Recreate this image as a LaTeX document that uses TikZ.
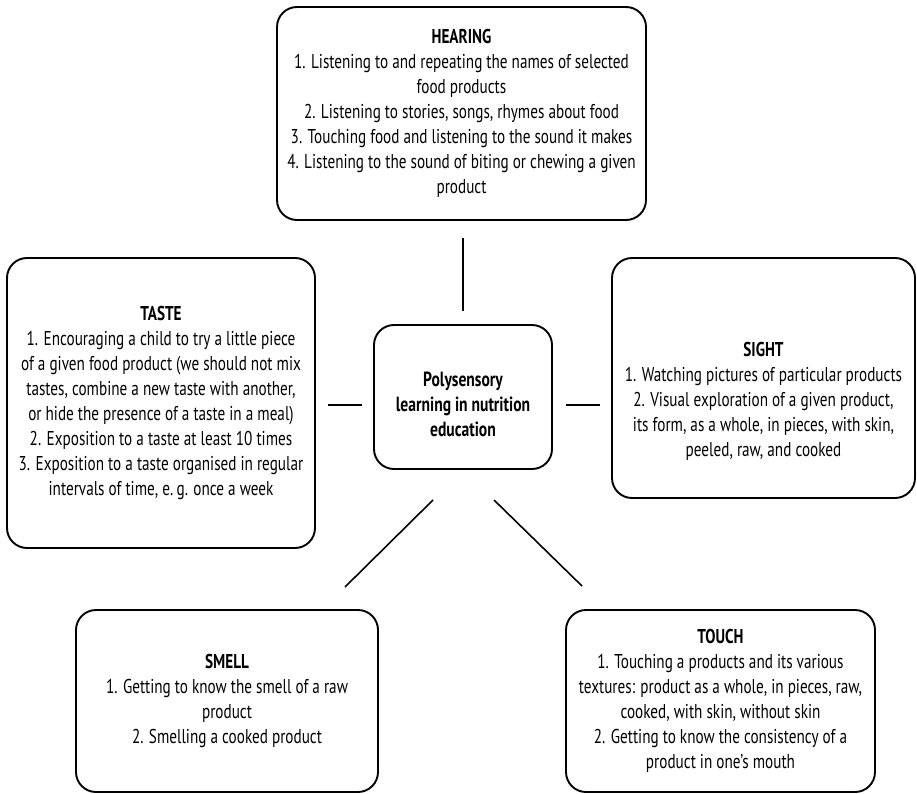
\documentclass[tikz,border=0pt]{standalone}
\usepackage{fontspec}
\setmainfont{PT Sans}[FakeStretch=0.76]
\begin{document}
\begin{tikzpicture}[x=1pt,y=-1pt,
  box/.style={draw, line width=1.9pt, rounded corners=20pt, inner sep=0pt},
  txt/.style={align=center, inner sep=0pt, font=\fontsize{20}{25}\selectfont},
  conn/.style={line width=1.6pt}]
\useasboundingbox (0,0) rectangle (917,794);
% boxes
\node[box, minimum width=369pt, minimum height=213pt, txt] (hearing) at (461.5,113.5)
 {\textbf{HEARING}\\1. Listening to and repeating the names of selected\\food products\\2. Listening to stories, songs, rhymes about food\\3. Touching food and listening to the sound it makes\\4. Listening to the sound of biting or chewing a given\\product};
\node[box, minimum width=308pt, minimum height=290pt, txt] (taste) at (161,403)
 {\textbf{TASTE}\\1. Encouraging a child to try a little piece\\of a given food product (we should not mix\\tastes, combine a new taste with another,\\or hide the presence of a taste in a meal)\\2. Exposition to a taste at least 10 times\\3. Exposition to a taste organised in regular\\intervals of time, e.\,g. once a week};
\node[box, minimum width=303pt, minimum height=240pt] (sight) at (763.5,378) {};
\node[txt] (sighttext) at (763.5,401)
 {\textbf{SIGHT}\\1. Watching pictures of particular products\\2. Visual exploration of a given product,\\its form, as a whole, in pieces, with skin,\\peeled, raw, and cooked};
\node[box, minimum width=178pt, minimum height=144pt] (center) at (463,397) {};
\node[txt, font=\fontsize{20.5}{25}\selectfont\bfseries] (centertext) at (463,404)
 {Polysensory\\learning in nutrition\\education};
\node[box, minimum width=302pt, minimum height=182pt, txt] (smell) at (227,701)
 {\textbf{SMELL}\\1. Getting to know the smell of a raw\\product\\2. Smelling a cooked product};
\node[box, minimum width=309pt, minimum height=182pt, txt] (touch) at (720.5,701)
 {\textbf{TOUCH}\\1. Touching a products and its various\\textures: product as a whole, in pieces, raw,\\cooked, with skin, without skin\\2. Getting to know the consistency of a\\product in one’s mouth};
% connector ends
\coordinate (h1) at (463,238); \coordinate (h2) at (463,311);
\coordinate (t1) at (328,405); \coordinate (t2) at (362,405);
\coordinate (s1) at (566,405); \coordinate (s2) at (600,405);
\coordinate (m1) at (433,500); \coordinate (m2) at (345,587);
\coordinate (u1) at (494,500); \coordinate (u2) at (582,586);
\draw[conn] (h1) -- (h2);
\draw[conn] (t1) -- (t2);
\draw[conn] (s1) -- (s2);
\draw[conn] (m1) -- (m2);
\draw[conn] (u1) -- (u2);
\end{tikzpicture}
\end{document}
